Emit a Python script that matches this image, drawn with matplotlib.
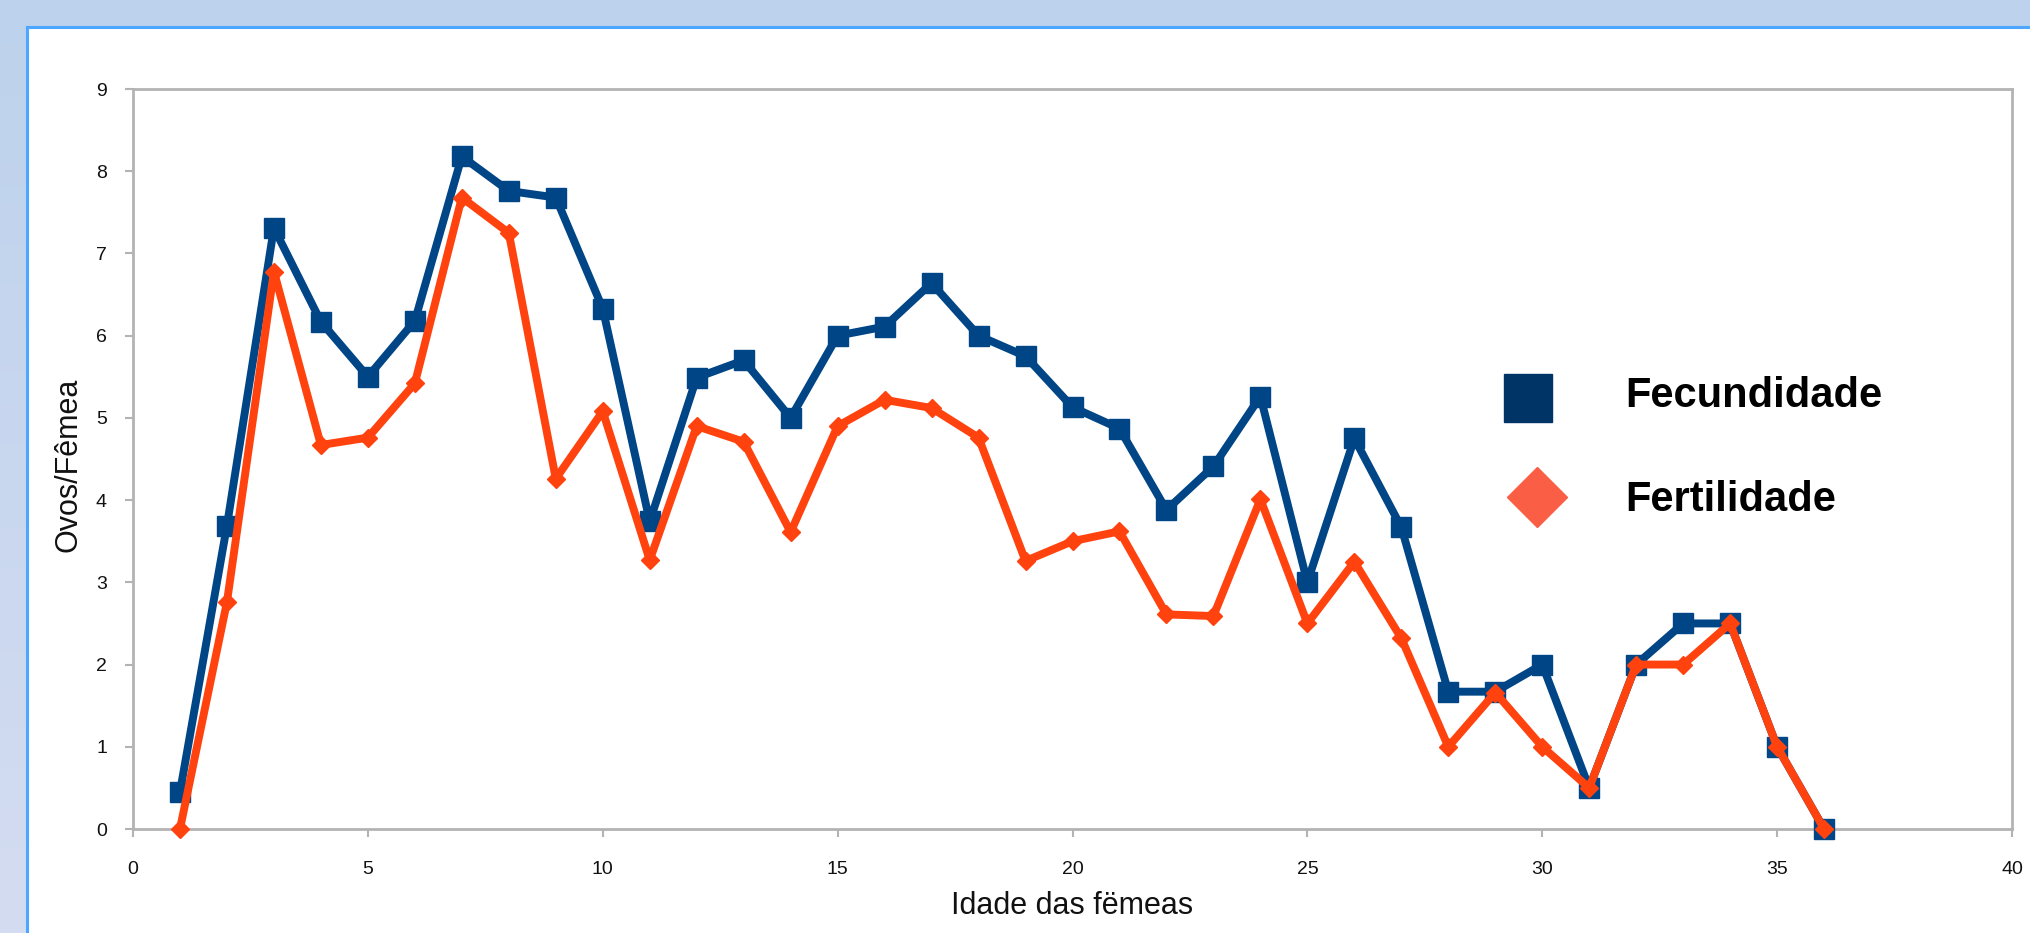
import numpy as np
import matplotlib
matplotlib.use("Agg")
import matplotlib.pyplot as plt
from matplotlib.lines import Line2D

# ---- data ----
idade = list(range(1, 37))
fecundidade = [0.45, 3.69, 7.31, 6.17, 5.50, 6.18, 8.18, 7.76, 7.68, 6.33,
               3.74, 5.49, 5.70, 5.00, 6.00, 6.11, 6.64, 6.00, 5.75, 5.13,
               4.87, 3.88, 4.41, 5.26, 3.00, 4.75, 3.67, 1.67, 1.67, 2.00,
               0.50, 2.00, 2.50, 2.50, 1.00, 0.00]
fertilidade = [0.00, 2.76, 6.78, 4.67, 4.76, 5.42, 7.68, 7.25, 4.26, 5.08,
               3.27, 4.90, 4.71, 3.61, 4.90, 5.22, 5.12, 4.76, 3.26, 3.50,
               3.62, 2.61, 2.59, 4.01, 2.50, 3.25, 2.32, 1.00, 1.66, 1.00,
               0.50, 2.00, 2.00, 2.50, 1.00, 0.00]
x_ticks = [0, 5, 10, 15, 20, 25, 30, 35, 40]
y_ticks = [0, 1, 2, 3, 4, 5, 6, 7, 8, 9]
series_names = ["Fecundidade", "Fertilidade"]
xlabel = "Idade das fëmeas"
ylabel = "Ovos/Fêmea"

plt.rcParams['font.family'] = ['Liberation Sans', 'DejaVu Sans']

W, H = 2030, 933
fig = plt.figure(figsize=(W / 100, H / 100), dpi=100)

# background gradient
bg = fig.add_axes([0, 0, 1, 1], zorder=-10)
grad = np.linspace(0, 1, 256).reshape(-1, 1)
c_top = np.array([0xBD, 0xD2, 0xEC]) / 255.0
c_bot = np.array([0xD4, 0xDC, 0xF1]) / 255.0
img = c_top[None, None, :] * (1 - grad[:, :, None]) + c_bot[None, None, :] * grad[:, :, None]
bg.imshow(img, aspect='auto', extent=[0, 1, 0, 1], origin='upper')
bg.set_xlim(0, 1)
bg.set_ylim(0, 1)
bg.axis('off')
# white panel
px0, py_top = 27 / W, 1 - 27 / H
bg.add_patch(plt.Rectangle((px0, 0), 1 - px0 + 0.01, py_top, facecolor='white',
                           edgecolor='none', zorder=2))
bg.plot([px0, px0], [0, py_top], color='#4DA6FF', lw=2.2, zorder=3)
bg.plot([px0, 1], [py_top, py_top], color='#4DA6FF', lw=2.2, zorder=3)

left, right = 133 / W, 2012 / W
bottom, top = 1 - 829 / H, 1 - 89 / H
ax = fig.add_axes([left, bottom, right - left, top - bottom])
ax.set_facecolor('white')

ax.plot(idade, fecundidade, color='#004586', lw=5.7, marker='s', markersize=14.2,
        markerfacecolor='#004586', markeredgecolor='#004586', zorder=3, clip_on=False)
ax.plot(idade, fertilidade, color='#FF420E', lw=5.7, marker='D', markersize=9.5,
        markerfacecolor='#FF420E', markeredgecolor='#FF420E', zorder=4, clip_on=False)

ax.set_xlim(0, 40)
ax.set_ylim(0, 9)
ax.set_xticks(x_ticks)
ax.set_yticks(y_ticks)
ax.tick_params(axis='both', direction='out', length=5.8, width=1.5, color='#B3B3B3',
               labelsize=14, labelcolor='#111111')
ax.tick_params(axis='x', pad=17)
ax.tick_params(axis='y', pad=13)
for s in ax.spines.values():
    s.set_color('#B3B3B3')
    s.set_linewidth(2)

fig.text(1072 / W, 1 - 906 / H, xlabel, fontsize=22, ha='center', va='center', color='#111111')
fig.text(69 / W, 1 - 465 / H, ylabel, fontsize=22, ha='center', va='center',
         rotation=90, color='#111111')

# legend
fig.lines.append(Line2D([1528 / W], [1 - 398 / H], marker='s', markersize=34,
                        color='#003366', markeredgecolor='#003366', linestyle='none',
                        transform=fig.transFigure))
fig.lines.append(Line2D([1537 / W], [1 - 497 / H], marker='D', markersize=31,
                        color='#FA5E44', markeredgecolor='#FA5E44', linestyle='none',
                        transform=fig.transFigure))
fig.text(1625 / W, 1 - 396 / H, series_names[0], fontsize=30, fontweight='bold',
         ha='left', va='center', color='black')
fig.text(1625 / W, 1 - 500 / H, series_names[1], fontsize=30, fontweight='bold',
         ha='left', va='center', color='black')

fig.savefig('out.png', dpi=100)
